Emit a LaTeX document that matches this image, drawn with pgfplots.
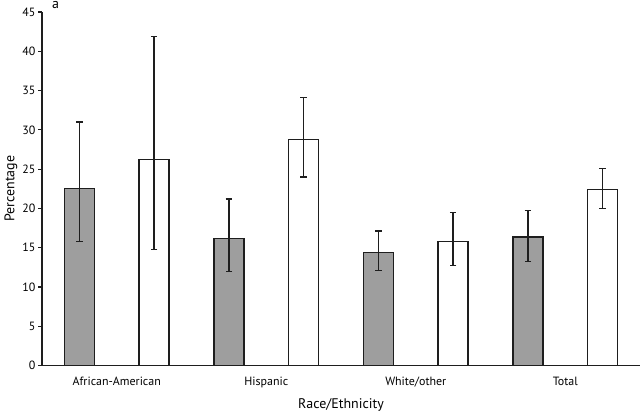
\documentclass[border=0pt]{standalone}
\usepackage{pgfplots}
\pgfplotsset{compat=1.18}
\usepackage{fontspec}
\setmainfont{PT Sans}
\definecolor{barGray}{RGB}{158,158,158}
\definecolor{ink}{RGB}{30,30,30}

\pgfplotsset{
    % shared look of both bar series
    bar-common/.style={
        ybar, bar shift=0pt, bar width=30bp,
        draw=ink, line width=1.4bp,
        error bars/.cd,
            y dir=both, y explicit,
            error bar style={line width=1.4bp, ink},
            error mark options={rotate=90, mark size=3.2bp, line width=1.4bp, ink},
    },
}

\begin{document}
\begin{tikzpicture}
\begin{axis}[
        name=ax,
        scale only axis,
        width=598bp, height=353.5bp,
        xmin=-0.5, xmax=7.5,
        ymin=0, ymax=45,
        axis x line=bottom, axis y line=left,
        axis line style={-, line width=1.4bp, ink},
        ytick={0,5,...,45},
        xtick={0.5,2.5,4.5,6.5},
        xticklabels={African-American, Hispanic, White/other, Total},
        x tick style={draw=none},
        y tick style={line width=1.2bp, ink},
        tick align=outside, major tick length=4bp,
        ticklabel style={font=\fontsize{12}{14}\selectfont},
        /pgf/number format/assume math mode=true,
        xticklabel style={yshift=-4bp},
        yticklabel style={xshift=1bp},
        ylabel={Percentage}, xlabel={Race/Ethnicity},
        label style={font=\fontsize{14}{16}\selectfont},
        ylabel style={at={(rel axis cs:0,0.5)}, anchor=north, yshift=41bp},
        xlabel style={at={(rel axis cs:0.5,0)}, anchor=south, yshift=-49bp},
        clip=false,
    ]

    % --- grey bars ---
    \addplot[fill=barGray, bar-common] coordinates {
        (0,22.55) += (0,8.45) -= (0,6.8)
        (2,16.15) += (0,5.05) -= (0,4.15)
        (4,14.40) += (0,2.70) -= (0,2.33)
        (6,16.36) += (0,3.34) -= (0,3.10)
    };

    % --- white bars ---
    \addplot[fill=white, bar-common] coordinates {
        (1,26.2) += (0,15.7) -= (0,11.4)
        (3,28.8) += (0,5.35) -= (0,4.8)
        (5,15.8) += (0,3.7) -= (0,3.1)
        (7,22.4) += (0,2.7) -= (0,2.4)
    };

    \node[anchor=base west, font=\fontsize{14}{16}\selectfont, inner sep=0pt]
        at ([xshift=10bp, yshift=3bp]rel axis cs:0,1) {a};
\end{axis}
\pgfresetboundingbox
\path[use as bounding box]
    ([xshift=-42bp, yshift=-49.5bp]ax.south west) rectangle ([yshift=12bp]ax.north east);
\end{tikzpicture}
\end{document}
